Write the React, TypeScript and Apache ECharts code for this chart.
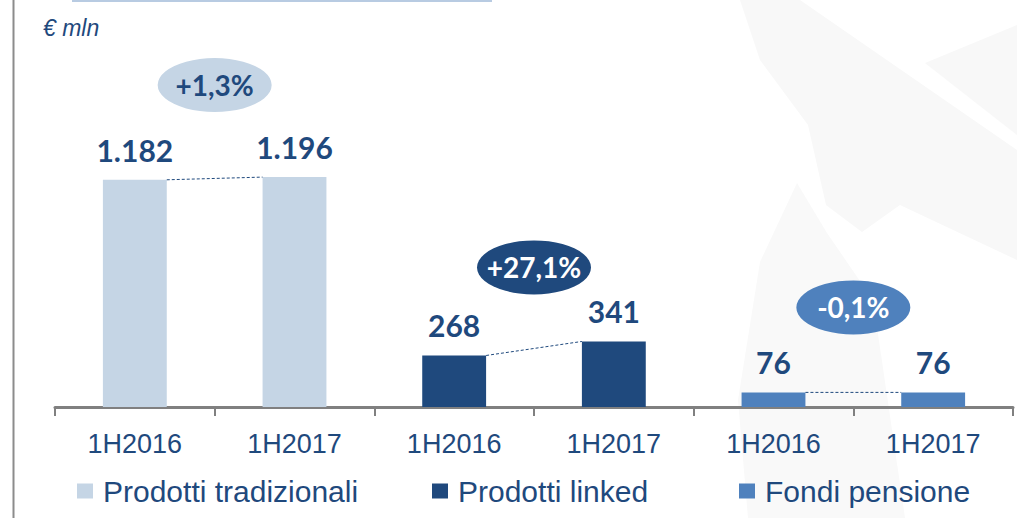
import React, { useEffect, useRef } from "react";
import * as echarts from "echarts";

const categories = ["1H2016", "1H2017", "1H2016", "1H2017", "1H2016", "1H2017"];
const seriesNames = ["Prodotti tradizionali", "Prodotti linked", "Fondi pensione"];
const tradizionali = [1182, 1196];
const linked = [268, 341];
const pensione = [76, 76];
const changeLabels = ["+1,3%", "+27,1%", "-0,1%"];
const bubbleLevels = [1675, 726, 518];
const unitLabel = "€ mln";

const colors = ["#C5D5E5", "#1F497D", "#4F81BD"];
const bubbleText = ["#1F497D", "#FFFFFF", "#FFFFFF"];
const textBlue = "#1F497D";

const fmt = (v: number) => String(v).replace(/\B(?=(\d{3})+(?!\d))/g, ".");

export default function App() {
  const ref = useRef<HTMLDivElement>(null);
  useEffect(() => {
    if (!ref.current) return;
    const chart = echarts.init(ref.current, null, { renderer: "svg" });
    const groups = [tradizionali, linked, pensione];
    const barSeries = groups.map((vals, gi) => {
      const data: (number | null)[] = categories.map(() => null);
      vals.forEach((v, k) => (data[gi * 2 + k] = v));
      return {
        type: "bar",
        name: seriesNames[gi],
        data,
        barWidth: "40%",
        barGap: "-100%",
        itemStyle: { color: colors[gi] },
        label: {
          show: true,
          position: "top",
          distance: 15,
          formatter: (p: any) => fmt(p.value),
          color: textBlue,
          fontFamily: "Lato",
          fontWeight: "bold",
          fontSize: 30,
        },
        z: 3,
      };
    });
    const connectors = groups.map((vals, gi) => ({
      type: "line",
      xAxisIndex: 1,
      data: [
        [gi * 2 + 0.7, vals[0]],
        [gi * 2 + 1.3, vals[1]],
      ],
      symbol: "none",
      lineStyle: { color: textBlue, width: 1, type: [3, 2] },
      z: 4,
      silent: true,
    }));
    const bubbles = {
      type: "scatter",
      xAxisIndex: 1,
      symbol: "circle",
      symbolSize: [114, 54],
      itemStyle: { opacity: 1 },
      data: changeLabels.map((t, gi) => ({
        value: [gi * 2 + 1, bubbleLevels[gi]],
        name: t,
        itemStyle: { color: colors[gi], opacity: 1 },
        label: { color: bubbleText[gi] },
      })),
      label: {
        show: true,
        position: "inside",
        formatter: (p: any) => p.name,
        fontFamily: "Lato",
        fontWeight: "bold",
        fontSize: 28,
      },
      z: 5,
    };
    const legendLefts = [77, 432, 739];
    chart.setOption({
      animation: false,
      backgroundColor: "#FFFFFF",
      grid: { left: 55, right: 4, top: 61, bottom: 111 },
      xAxis: [
        {
          type: "category",
          data: categories,
          axisLine: { lineStyle: { color: "#808080", width: 3 } },
          axisTick: { show: true, length: 9, lineStyle: { color: "#808080", width: 2 } },
          axisLabel: {
            color: textBlue,
            fontFamily: "Liberation Sans",
            fontSize: 27,
            margin: 23,
          },
        },
        { type: "value", min: 0, max: 6, show: false },
      ],
      yAxis: { type: "value", min: 0, max: 1800, show: false, splitLine: { show: false } },
      legend: seriesNames.map((n, i) => ({
        data: [n],
        left: legendLefts[i],
        top: 476,
        padding: 0,
        icon: "rect",
        itemWidth: 16,
        itemHeight: 15,
        textStyle: {
          color: textBlue,
          fontFamily: "Liberation Sans",
          fontSize: 30,
          padding: [0, 0, 0, 5],
        },
        selectedMode: false,
      })),
      graphic: [
        {
          type: "polygon",
          z: -10,
          silent: true,
          shape: {
            points: [[740, 0], [800, 0], [1017, 150], [1017, 260], [900, 205], [862, 232], [826, 205], [808, 125], [760, 60]],
          },
          style: { fill: "#F8F8F8" },
        },
        {
          type: "polygon",
          z: -10,
          silent: true,
          shape: { points: [[925, 63], [1017, 25], [1017, 135]] },
          style: { fill: "#F8F8F8" },
        },
        {
          type: "polygon",
          z: -10,
          silent: true,
          shape: {
            points: [[797, 183], [827, 233], [873, 300], [905, 518], [748, 518], [738, 400], [760, 262]],
          },
          style: { fill: "#F9F9F9" },
        },
        {
          type: "rect",
          silent: true,
          shape: { x: 72, y: 0, width: 420, height: 2 },
          style: { fill: "#B8CBE2" },
        },
        {
          type: "line",
          silent: true,
          shape: { x1: 13.5, y1: 0, x2: 13.5, y2: 518 },
          style: { stroke: "#8C8C8C", lineWidth: 2 },
        },
        {
          type: "text",
          left: 43,
          top: 16,
          style: {
            text: unitLabel,
            fill: textBlue,
            font: "italic 23px 'Liberation Sans'",
          },
        },
      ],
      series: [...barSeries, ...connectors, bubbles],
    });
    return () => chart.dispose();
  }, []);
  return (
    <div
      ref={ref}
      style={{ position: "fixed", left: 0, top: 0, width: 1017, height: 518 }}
    />
  );
}
